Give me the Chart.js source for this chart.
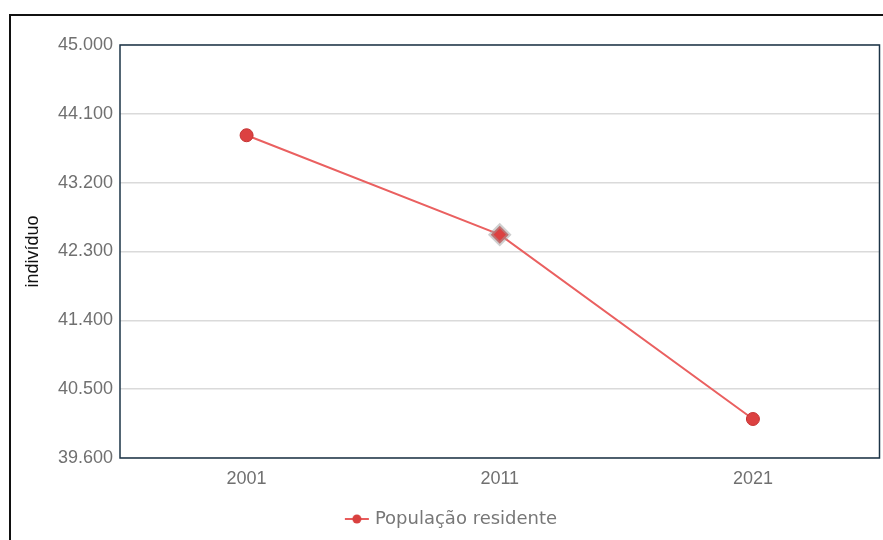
<!DOCTYPE html>
<html>
<head>
<meta charset="utf-8">
<script src="https://cdn.jsdelivr.net/npm/chart.js@4/dist/chart.umd.min.js"></script>
<style>
html,body{margin:0;padding:0;background:#fff;overflow:hidden;}
#wrap{position:relative;width:883px;height:540px;overflow:hidden;}
#frame{position:absolute;left:9px;top:14px;width:900px;height:600px;border-left:2px solid #111;border-top:2px solid #111;box-sizing:border-box;}
canvas{position:absolute;left:0;top:0;}
</style>
</head>
<body>
<div id="wrap">
<div id="frame"></div>
<canvas id="c" width="887" height="540"></canvas>
</div>
<script>
const categories = ['2001', '2011', '2021'];
const seriesName = 'População residente';
const populacao = [43820, 42520, 40110];
const yMin = 39600;
const yMax = 45000;
const yStep = 900;
const yTitle = 'indivíduo';

function fmt(v){ return Number(v).toLocaleString('de-DE', {minimumFractionDigits:0}); }

// legend icon: line with dot
const icon = document.createElement('canvas');
icon.width = 26; icon.height = 12;
(function(){
  const g = icon.getContext('2d');
  g.strokeStyle = '#e85c5c'; g.lineWidth = 2;
  g.beginPath(); g.moveTo(1,6); g.lineTo(25,6); g.stroke();
  g.fillStyle = '#d9403f';
  g.beginPath(); g.arc(13,6,4.5,0,Math.PI*2); g.fill();
})();

const frameRect = {
  id: 'frameRect',
  afterDatasetsDraw(chart){
    const a = chart.chartArea, ctx = chart.ctx;
    ctx.save();
    ctx.strokeStyle = '#1d3447';
    ctx.lineWidth = 1.5;
    ctx.strokeRect(a.left, a.top, a.right - a.left, a.bottom - a.top);
    ctx.restore();
  }
};

new Chart(document.getElementById('c'), {
  type: 'line',
  data: {
    labels: categories,
    datasets: [{
      label: seriesName,
      data: populacao,
      borderColor: '#ea6060',
      borderWidth: 2,
      backgroundColor: '#dc4141',
      pointBackgroundColor: '#dc4141',
      pointBorderColor: ['#c53333', 'rgba(160,160,160,0.5)', '#c53333'],
      pointBorderWidth: [1, 4, 1],
      pointRadius: [6.5, 9, 6.5],
      pointStyle: ['circle', 'rectRot', 'circle'],
      tension: 0,
      clip: false
    }]
  },
  options: {
    responsive: false,
    animation: false,
    devicePixelRatio: 1,
    layout: { padding: { left: 18, right: 0, top: 45, bottom: 2 } },
    plugins: {
      tooltip: { enabled: false },
      legend: {
        position: 'bottom',
        labels: {
          usePointStyle: true,
          pointStyle: icon,
          color: '#777',
          font: { family: 'DejaVu Sans', size: 18 },
          padding: 13,
          generateLabels(chart){
            return chart.data.datasets.map((d,i)=>({
              text: d.label, pointStyle: icon, fontColor: '#777',
              datasetIndex: i, hidden: false, lineWidth: 0
            }));
          }
        }
      }
    },
    scales: {
      x: {
        offset: true,
        afterFit(s){ s.height = 39; },
        grid: { display: false, drawTicks: false },
        border: { display: false },
        ticks: { color: '#707070', font: { family: 'Liberation Sans', size: 18 }, padding: 10 }
      },
      y: {
        min: yMin, max: yMax,
        afterFit(s){ s.width = 102; },
        grid: { color: '#dadada', lineWidth: 1.5, drawTicks: false },
        border: { display: false },
        title: { display: true, text: yTitle, color: '#111', font: { family: 'Liberation Sans', size: 18 }, padding: { top: 4, bottom: 0 } },
        ticks: {
          stepSize: yStep,
          color: '#707070',
          font: { family: 'Liberation Sans', size: 18 },
          padding: 7,
          callback: v => fmt(v)
        }
      }
    }
  },
  plugins: [frameRect]
});
</script>
</body>
</html>
